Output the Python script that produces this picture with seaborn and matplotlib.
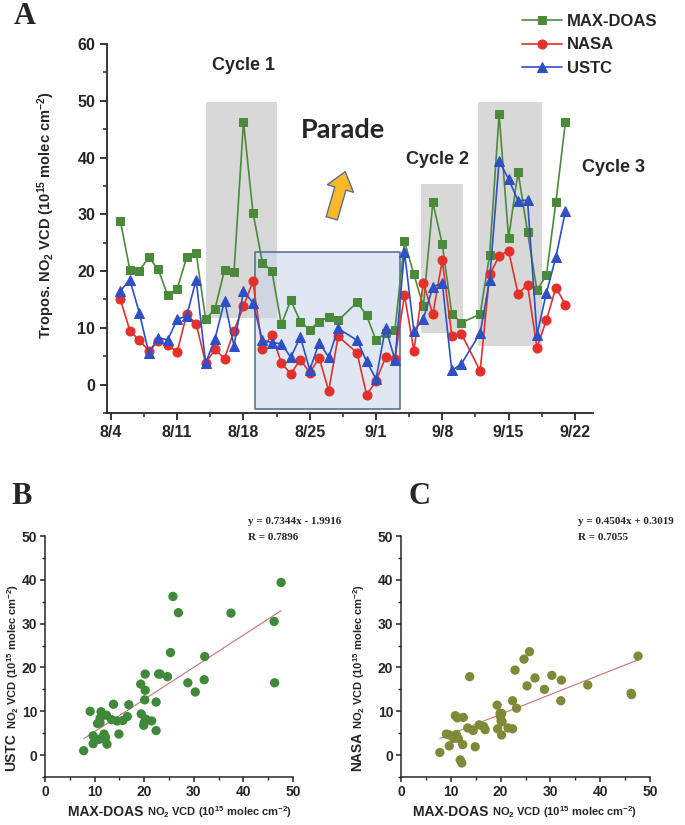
import numpy as np
import pandas as pd
import seaborn as sns
import matplotlib.pyplot as plt
from matplotlib.patches import FancyArrowPatch

# daily tropospheric NO2 VCD (1e15 molec cm-2), 2015, no data on 8/29 and 9/11
dates = ['2015-08-05', '2015-08-06', '2015-08-07', '2015-08-08', '2015-08-09', '2015-08-10',
         '2015-08-11', '2015-08-12', '2015-08-13', '2015-08-14', '2015-08-15', '2015-08-16',
         '2015-08-17', '2015-08-18', '2015-08-19', '2015-08-20', '2015-08-21', '2015-08-22',
         '2015-08-23', '2015-08-24', '2015-08-25', '2015-08-26', '2015-08-27', '2015-08-28',
         '2015-08-30', '2015-08-31', '2015-09-01', '2015-09-02', '2015-09-03', '2015-09-04',
         '2015-09-05', '2015-09-06', '2015-09-07', '2015-09-08', '2015-09-09', '2015-09-10',
         '2015-09-12', '2015-09-13', '2015-09-14', '2015-09-15', '2015-09-16', '2015-09-17',
         '2015-09-18', '2015-09-19', '2015-09-20', '2015-09-21']

maxdoas = [28.8, 20.2, 20.1, 22.4, 20.3, 15.7, 16.9, 22.4, 23.2, 11.5, 13.4, 20.2,
           19.9, 46.3, 30.3, 21.5, 20.0, 10.6, 14.9, 11.1, 9.7, 11.1, 11.9, 11.3,
           14.5, 12.2, 7.8, 9.1, 9.7, 25.3, 19.4, 13.8, 32.1, 24.7, 12.5, 10.9,
           12.4, 22.9, 47.6, 25.8, 37.5, 26.9, 16.6, 19.3, 32.2, 46.2]

nasa = [15.0, 9.5, 7.8, 6.0, 7.6, 6.9, 5.8, 12.4, 10.7, 3.8, 6.2, 4.6,
        9.5, 13.8, 18.2, 6.2, 8.8, 3.8, 1.9, 4.4, 2.1, 4.7, -1.1, 8.5,
        5.6, -1.8, 0.6, 4.8, 4.6, 15.8, 6.0, 17.9, 12.4, 21.9, 8.6, 9.0,
        2.4, 19.4, 22.6, 23.6, 16.0, 17.6, 6.5, 11.4, 17.1, 14.1]

ustc = [16.5, 18.5, 12.6, 5.6, 8.2, 7.9, 11.5, 12.1, 18.5, 3.8, 8.1, 14.8,
        6.8, 16.5, 14.4, 7.8, 7.4, 7.2, 4.8, 8.4, 2.6, 7.4, 4.8, 9.9,
        7.8, 4.1, 1.0, 10.0, 4.4, 23.4, 9.4, 11.6, 17.2, 17.9, 2.5, 3.6,
        9.1, 18.5, 39.4, 36.2, 32.4, 32.5, 8.8, 16.2, 22.5, 30.5]

week_ticks = ['2015-08-04', '2015-08-11', '2015-08-18', '2015-08-25',
              '2015-09-01', '2015-09-08', '2015-09-15', '2015-09-22']
week_labels = ['8/4', '8/11', '8/18', '8/25', '9/1', '9/8', '9/15', '9/22']

# highlighted periods: (start, end, bottom, top)
cycles = [('2015-08-14 02:00', '2015-08-21 12:00', 11.8, 49.8),
          ('2015-09-05 17:00', '2015-09-10 05:00', 9.1, 35.4),
          ('2015-09-11 19:00', '2015-09-18 12:00', 6.8, 49.8)]
parade = ('2015-08-19 05:00', '2015-09-03 12:00', -4.3, 23.3)

# regression results printed on the scatter panels
fit_ustc = (0.7344, -1.9916, 0.7896)
fit_nasa = (0.4504, 0.3019, 0.7055)

green = '#4b8a3b'
red = '#e2312b'
blue = '#2f4fc4'

sns.set_style('ticks')
plt.rcParams['font.family'] = ['Liberation Sans', 'DejaVu Sans']
plt.rcParams['font.weight'] = 'bold'
plt.rcParams['mathtext.fontset'] = 'custom'
plt.rcParams['mathtext.rm'] = 'Liberation Sans:bold'
plt.rcParams['mathtext.bf'] = 'Liberation Sans:bold'
plt.rcParams['mathtext.default'] = 'rm'

df = pd.DataFrame({'date': pd.to_datetime(dates), 'MAX-DOAS': maxdoas,
                   'NASA': nasa, 'USTC': ustc})

fig = plt.figure(figsize=(6.85, 8.25), dpi=100)
W, H = 685, 825


def fx(px):
    return px / W


def fy(py):
    return 1 - py / H


# ---------- panel A : time series ----------
ax = fig.add_axes([fx(107), fy(413), fx(593) - fx(107), fy(44) - fy(413)])

for x0, x1, y0, y1 in cycles:
    ax.fill_between(pd.to_datetime([x0, x1]), y0, y1, color='#d8d8d8', lw=0, zorder=0)
ax.fill_between(pd.to_datetime([parade[0], parade[1]]), parade[2], parade[3],
                facecolor='#c5d5ea', alpha=0.55, lw=0, zorder=0.5)
ax.fill_between(pd.to_datetime([parade[0], parade[1]]), parade[2], parade[3],
                facecolor='none', edgecolor='#5b7397', lw=1.2, zorder=0.6)

sns.lineplot(data=df, x='date', y='MAX-DOAS', ax=ax, color=green, marker='s',
             markersize=5.5, markeredgecolor=green, lw=1.2, label='MAX-DOAS')
sns.lineplot(data=df, x='date', y='NASA', ax=ax, color=red, marker='o',
             markersize=6.5, markeredgecolor=red, lw=1.2, label='NASA')
sns.lineplot(data=df, x='date', y='USTC', ax=ax, color=blue, marker='^',
             markersize=7, markeredgecolor=blue, lw=1.2, label='USTC')

ax.set_xlim(pd.Timestamp('2015-08-03 14:00'), pd.Timestamp('2015-09-23 22:00'))
ax.set_ylim(-5, 60)
ax.set_xticks(pd.to_datetime(week_ticks))
ax.set_xticklabels(week_labels)
ax.set_xticks(pd.to_datetime(week_ticks[:-1]) + pd.Timedelta(hours=84), minor=True)
ax.set_yticks(np.arange(0, 61, 10))
ax.set_yticks(np.arange(-5, 61, 5), minor=True)
ax.tick_params(which='major', direction='out', length=5, width=1.3, labelsize=11.5)
ax.tick_params(which='minor', direction='out', length=3, width=1.1)
for lab in ax.get_xticklabels() + ax.get_yticklabels():
    lab.set_fontweight('bold')
ax.set_xlabel('')
ax.set_ylabel(r'Tropos. NO$_2$ VCD (10$^{15}$ molec cm$^{-2}$)',
              fontsize=10.5, fontweight='bold')
ax.yaxis.set_label_coords(-0.102, 0.535)
sns.despine(ax=ax)
for s in ['left', 'bottom']:
    ax.spines[s].set_linewidth(1.3)

ax.legend(loc='upper left', bbox_to_anchor=(fx(522), fy(14)),
          bbox_transform=fig.transFigure, frameon=False,
          handlelength=2.4, handletextpad=0.3, labelspacing=0.5,
          borderpad=0, borderaxespad=0, prop={'weight': 'bold', 'size': 12})

fig.text(fx(244), fy(66), 'Cycle 1', ha='center', va='center', fontsize=13, fontweight='bold')
fig.text(fx(438), fy(160), 'Cycle 2', ha='center', va='center', fontsize=13, fontweight='bold')
fig.text(fx(613), fy(168), 'Cycle 3', ha='center', va='center', fontsize=13, fontweight='bold')
fig.text(fx(343), fy(130), 'Parade', ha='center', va='center', fontsize=19.5,
         fontweight='bold', family=['Lato', 'DejaVu Sans'])
fig.patches.append(FancyArrowPatch(
    (fx(331), fy(221)), (fx(346), fy(169)), transform=fig.transFigure,
    arrowstyle='simple,head_length=0.9,head_width=1.4,tail_width=0.6',
    mutation_scale=14, facecolor='#fbb829', edgecolor='#5a6f92', lw=1.0))

fig.text(fx(25), fy(17), 'A', ha='center', va='center', fontsize=22,
         fontweight='bold', family=['Liberation Serif'])


# ---------- panels B and C : scatter ----------
def scatter_panel(left, right, yvals, fit, color, name, letter, letter_x, eq_x, xlab_x, ylab_x):
    axs = fig.add_axes([fx(left), fy(777), fx(right) - fx(left), fy(536) - fy(777)])
    sns.scatterplot(x=maxdoas, y=yvals, ax=axs, color=color, s=45,
                    edgecolor='none', zorder=3)
    xs = np.array([min(maxdoas), max(maxdoas)])
    sns.lineplot(x=xs, y=fit[0] * xs + fit[1], ax=axs, color='#c87272', lw=0.8)
    axs.set_xlim(0, 50)
    axs.set_ylim(-5, 50)
    axs.set_xticks(np.arange(0, 51, 10))
    axs.set_xticks(np.arange(5, 50, 10), minor=True)
    axs.set_yticks(np.arange(0, 51, 10))
    axs.set_yticks(np.arange(-5, 50, 10), minor=True)
    axs.tick_params(which='major', direction='out', length=3.5, width=1.1,
                    labelsize=10, pad=2)
    axs.tick_params(which='minor', direction='out', length=2.5, width=1.0)
    for lab in axs.get_xticklabels() + axs.get_yticklabels():
        lab.set_fontweight('bold')
    axs.set_xlabel('')
    axs.set_ylabel('')
    sns.despine(ax=axs)
    for s in ['left', 'bottom']:
        axs.spines[s].set_linewidth(1.1)

    sign = '+' if fit[1] >= 0 else '-'
    fig.text(fx(eq_x), fy(521), f'y = {fit[0]:.4f}x {sign} {abs(fit[1]):.4f}',
             ha='left', va='center', fontsize=8, fontweight='bold',
             family=['Liberation Serif'])
    fig.text(fx(eq_x), fy(538), f'R = {fit[2]:.4f}', ha='left', va='center',
             fontsize=8, fontweight='bold', family=['Liberation Serif'])
    fig.text(fx(letter_x), fy(497), letter, ha='center', va='center', fontsize=22,
             fontweight='bold', family=['Liberation Serif'])

    small = r'NO$_2$ VCD (10$^{15}$ molec cm$^{-2}$)'
    fig.text(fx(xlab_x), fy(812), 'MAX-DOAS ', ha='right', va='center',
             fontsize=10, fontweight='bold')
    fig.text(fx(xlab_x), fy(812), small, ha='left', va='center',
             fontsize=8, fontweight='bold')
    fig.text(fx(ylab_x), fy(771), name, ha='center', va='bottom',
             rotation=90, fontsize=10, fontweight='bold')
    fig.text(fx(ylab_x + 2), fy(729), small, ha='center', va='bottom',
             rotation=90, fontsize=8, fontweight='bold')
    return axs


scatter_panel(45, 293, ustc, fit_ustc, '#3f8a3a', 'USTC', 'B', 22, 248, 147, 11)
scatter_panel(401, 650, nasa, fit_nasa, '#7e8a38', 'NASA', 'C', 419, 578, 492, 357)

plt.savefig('out.png', dpi=100)
